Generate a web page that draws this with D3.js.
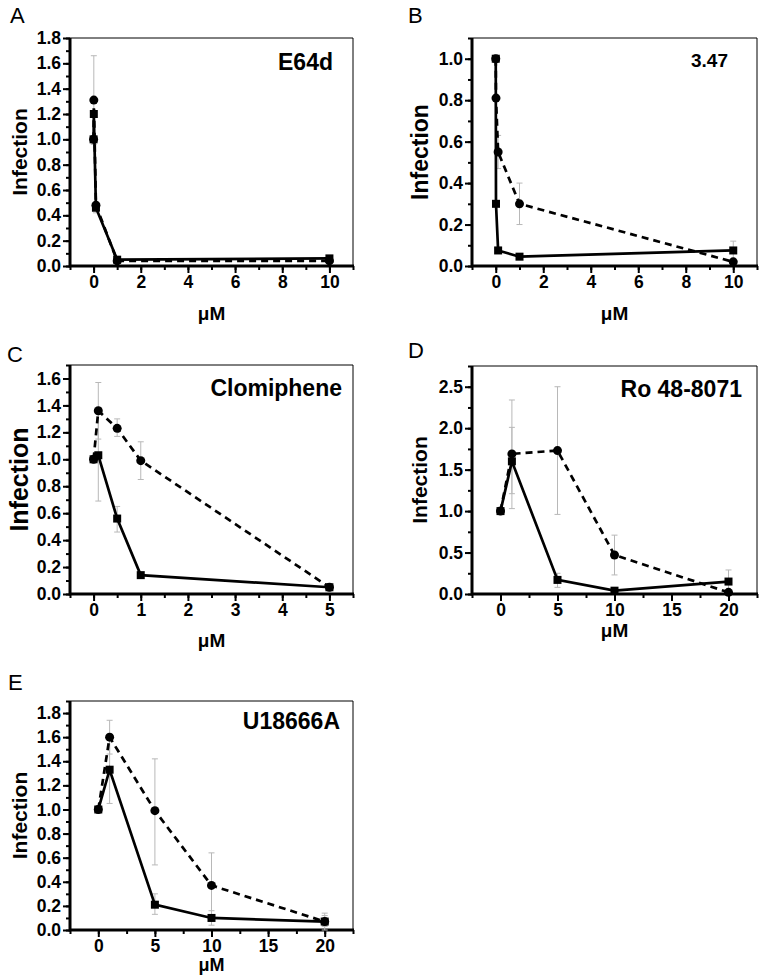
<!DOCTYPE html>
<html>
<head>
<meta charset="utf-8">
<script src="https://cdn.jsdelivr.net/npm/d3@7"></script>
<style>
body { margin: 0; background: #fff; }
text { font-family: Arial, "Liberation Sans", sans-serif; }
</style>
</head>
<body>
<div id="chart"></div>
<script>
// A - E64d
var concA = [0, 0.01, 0.1, 1, 10];
var solidA = [1.0, 1.2, 0.46, 0.05, 0.06];
var dashA = [1.0, 1.31, 0.48, 0.04, 0.04];
var solidErrA = [null, null, [0.42, 0.50], null, null];
var dashErrA = [null, [0.96, 1.66], null, null, null];

// B - 3.47
var concB = [0, 0.01, 0.1, 1, 10];
var solidB = [1.0, 0.30, 0.075, 0.045, 0.075];
var dashB = [1.0, 0.81, 0.55, 0.30, 0.02];
var solidErrB = [null, null, [0.06, 0.09], null, [0.03, 0.12]];
var dashErrB = [null, null, [0.47, 0.63], [0.20, 0.40], null];

// C - Clomiphene
var concC = [0, 0.1, 0.5, 1, 5];
var solidC = [1.0, 1.03, 0.56, 0.14, 0.05];
var dashC = [1.0, 1.36, 1.23, 0.99, 0.05];
var solidErrC = [null, [0.69, 1.37], [0.46, 0.65], [0.12, 0.16], null];
var dashErrC = [null, [1.15, 1.57], [1.17, 1.30], [0.85, 1.13], null];

// D - Ro 48-8071
var concD = [0, 1, 5, 10, 20];
var solidD = [1.0, 1.6, 0.17, 0.04, 0.15];
var dashD = [1.0, 1.69, 1.73, 0.47, 0.02];
var solidErrD = [null, [1.21, 2.01], [0.08, 0.25], [0.01, 0.07], [0.01, 0.29]];
var dashErrD = [null, [1.03, 2.34], [0.96, 2.50], [0.23, 0.71], null];

// E - U18666A
var concE = [0, 1, 5, 10, 20];
var solidE = [1.0, 1.33, 0.21, 0.10, 0.07];
var dashE = [1.0, 1.60, 0.99, 0.37, 0.07];
var solidErrE = [null, [1.05, 1.61], [0.13, 0.30], [0.04, 0.16], [0.03, 0.12]];
var dashErrE = [null, [1.46, 1.74], [0.54, 1.42], [0.10, 0.64], [0.0, 0.14]];

var panels = [
  { letter: 'A', letterPos: [10, 23], title: 'E64d', titleSize: 23, titleDx: 20, titleY: 70, ylabSize: 21,
    box: [70, 38, 353, 266], xdom: [-1, 11], ydom: [0, 1.8],
    xticks: [0, 2, 4, 6, 8, 10], xminor: 1, yticks: d3.range(0, 1.81, 0.2), yminor: 0.1,
    xlabY: 320, xlabSize: 19, ylabX: 20,
    conc: concA, solid: solidA, dash: dashA, solidErr: solidErrA, dashErr: dashErrA },
  { letter: 'B', letterPos: [408, 23], title: '3.47', titleSize: 19, titleDx: 29, titleY: 67, ylabSize: 23,
    box: [472, 38, 757, 266], xdom: [-1, 11], ydom: [0, 1.1],
    xticks: [0, 2, 4, 6, 8, 10], xminor: 1, yticks: d3.range(0, 1.01, 0.2), yminor: 0.1,
    xlabY: 320, xlabSize: 19, ylabX: 420,
    conc: concB, solid: solidB, dash: dashB, solidErr: solidErrB, dashErr: dashErrB },
  { letter: 'C', letterPos: [7, 362], title: 'Clomiphene', titleSize: 23, titleDx: 11, titleY: 396, ylabSize: 25,
    box: [70, 365, 353, 594], xdom: [-0.5, 5.5], ydom: [0, 1.7],
    xticks: [0, 1, 2, 3, 4, 5], xminor: 0.5, yticks: d3.range(0, 1.61, 0.2), yminor: 0.1,
    xlabY: 647, xlabSize: 19, ylabX: 19,
    conc: concC, solid: solidC, dash: dashC, solidErr: solidErrC, dashErr: dashErrC },
  { letter: 'D', letterPos: [408, 358], title: 'Ro 48-8071', titleSize: 23, titleDx: 15, titleY: 397, ylabSize: 21,
    box: [472, 366, 757, 594], xdom: [-2.5, 22.5], ydom: [0, 2.75],
    xticks: [0, 5, 10, 15, 20], xminor: 2.5, yticks: d3.range(0, 2.51, 0.5), yminor: 0.25,
    xlabY: 637, xlabSize: 19, ylabX: 420,
    conc: concD, solid: solidD, dash: dashD, solidErr: solidErrD, dashErr: dashErrD },
  { letter: 'E', letterPos: [8, 690], title: 'U18666A', titleSize: 23, titleDx: 13, titleY: 729, ylabSize: 21,
    box: [70, 701, 353, 930], xdom: [-2.5, 22.5], ydom: [0, 1.9],
    xticks: [0, 5, 10, 15, 20], xminor: 2.5, yticks: d3.range(0, 1.81, 0.2), yminor: 0.1,
    xlabY: 971, xlabSize: 18, ylabX: 20,
    conc: concE, solid: solidE, dash: dashE, solidErr: solidErrE, dashErr: dashErrE }
];

var svg = d3.select('#chart')
  .append('svg')
  .attr('width', 763)
  .attr('height', 975);

panels.forEach(function (p) {
  var l = p.box[0], t = p.box[1], r = p.box[2], b = p.box[3];
  var x = d3.scaleLinear().domain(p.xdom).range([l, r]);
  var y = d3.scaleLinear().domain(p.ydom).range([b, t]);
  var g = svg.append('g');

  // panel letter
  g.append('text')
    .attr('x', p.letterPos[0]).attr('y', p.letterPos[1])
    .attr('font-size', 22)
    .text(p.letter);

  // thin top / right frame
  g.append('path')
    .attr('d', 'M' + l + ',' + t + 'H' + r + 'V' + b)
    .attr('fill', 'none').attr('stroke', '#000').attr('stroke-width', 1);

  // minor + major ticks
  var xmin = d3.range(p.xdom[0], p.xdom[1] + 1e-9, p.xminor);
  var ymin = d3.range(p.ydom[0], p.ydom[1] + 1e-9, p.yminor);

  g.append('g')
    .attr('transform', 'translate(0,' + b + ')')
    .call(d3.axisBottom(x).tickValues(xmin).tickSize(4).tickFormat(''));
  g.append('g')
    .attr('transform', 'translate(0,' + b + ')')
    .call(d3.axisBottom(x).tickValues(p.xticks).tickSize(7).tickPadding(3).tickFormat(d3.format('d')));
  g.append('g')
    .attr('transform', 'translate(' + l + ',0)')
    .call(d3.axisLeft(y).tickValues(ymin).tickSize(4).tickFormat(''));
  g.append('g')
    .attr('transform', 'translate(' + l + ',0)')
    .call(d3.axisLeft(y).tickValues(p.yticks).tickSize(7).tickPadding(2).tickFormat(d3.format('.1f')));

  g.selectAll('.domain').remove();
  g.selectAll('.tick line').attr('stroke', '#000').attr('stroke-width', 2);
  g.selectAll('.tick text')
    .attr('font-size', 17.5).attr('font-weight', 'bold').attr('fill', '#000')
    .style('font-family', 'Arial, "Liberation Sans", sans-serif');

  // thick left / bottom axis lines
  g.append('path')
    .attr('d', 'M' + l + ',' + t + 'V' + b + 'H' + (r + 1))
    .attr('fill', 'none').attr('stroke', '#000').attr('stroke-width', 3);

  // axis labels
  g.append('text')
    .attr('transform', 'translate(' + p.ylabX + ',' + ((t + b) / 2) + ') rotate(-90)')
    .attr('text-anchor', 'middle').attr('dy', '0.35em')
    .attr('font-size', p.ylabSize).attr('font-weight', 'bold')
    .text('Infection');
  g.append('text')
    .attr('x', (l + r) / 2).attr('y', p.xlabY)
    .attr('text-anchor', 'middle')
    .attr('font-size', p.xlabSize).attr('font-weight', 'bold')
    .text('\u03bcM');

  // title
  g.append('text')
    .attr('x', r - p.titleDx).attr('y', p.titleY)
    .attr('text-anchor', 'end')
    .attr('font-size', p.titleSize).attr('font-weight', 'bold')
    .text(p.title);

  // error bars
  var errs = [];
  p.conc.forEach(function (c, i) {
    if (p.dashErr[i]) errs.push({ c: c, lo: p.dashErr[i][0], hi: p.dashErr[i][1] });
    if (p.solidErr[i]) errs.push({ c: c, lo: p.solidErr[i][0], hi: p.solidErr[i][1] });
  });
  var eg = g.append('g').attr('stroke', '#b8b8b8').attr('stroke-width', 1);
  errs.forEach(function (e) {
    var cx = x(e.c);
    eg.append('line').attr('x1', cx).attr('x2', cx).attr('y1', y(e.lo)).attr('y2', y(e.hi));
    eg.append('line').attr('x1', cx - 3).attr('x2', cx + 3).attr('y1', y(e.lo)).attr('y2', y(e.lo));
    eg.append('line').attr('x1', cx - 3).attr('x2', cx + 3).attr('y1', y(e.hi)).attr('y2', y(e.hi));
  });

  var line = d3.line()
    .x(function (d) { return x(d[0]); })
    .y(function (d) { return y(d[1]); });

  var dashPts = p.conc.map(function (c, i) { return [c, p.dash[i]]; });
  var solidPts = p.conc.map(function (c, i) { return [c, p.solid[i]]; });

  g.append('path')
    .datum(dashPts)
    .attr('d', line)
    .attr('fill', 'none').attr('stroke', '#000')
    .attr('stroke-width', 2.7).attr('stroke-dasharray', '7,5');
  g.append('path')
    .datum(solidPts)
    .attr('d', line)
    .attr('fill', 'none').attr('stroke', '#000')
    .attr('stroke-width', 2.7);

  g.selectAll('circle.pt')
    .data(dashPts)
    .enter().append('circle')
    .attr('class', 'pt')
    .attr('cx', function (d) { return x(d[0]); })
    .attr('cy', function (d) { return y(d[1]); })
    .attr('r', 4.5);
  g.selectAll('rect.pt')
    .data(solidPts)
    .enter().append('rect')
    .attr('class', 'pt')
    .attr('x', function (d) { return x(d[0]) - 4; })
    .attr('y', function (d) { return y(d[1]) - 4; })
    .attr('width', 8).attr('height', 8);
});
</script>
</body>
</html>
